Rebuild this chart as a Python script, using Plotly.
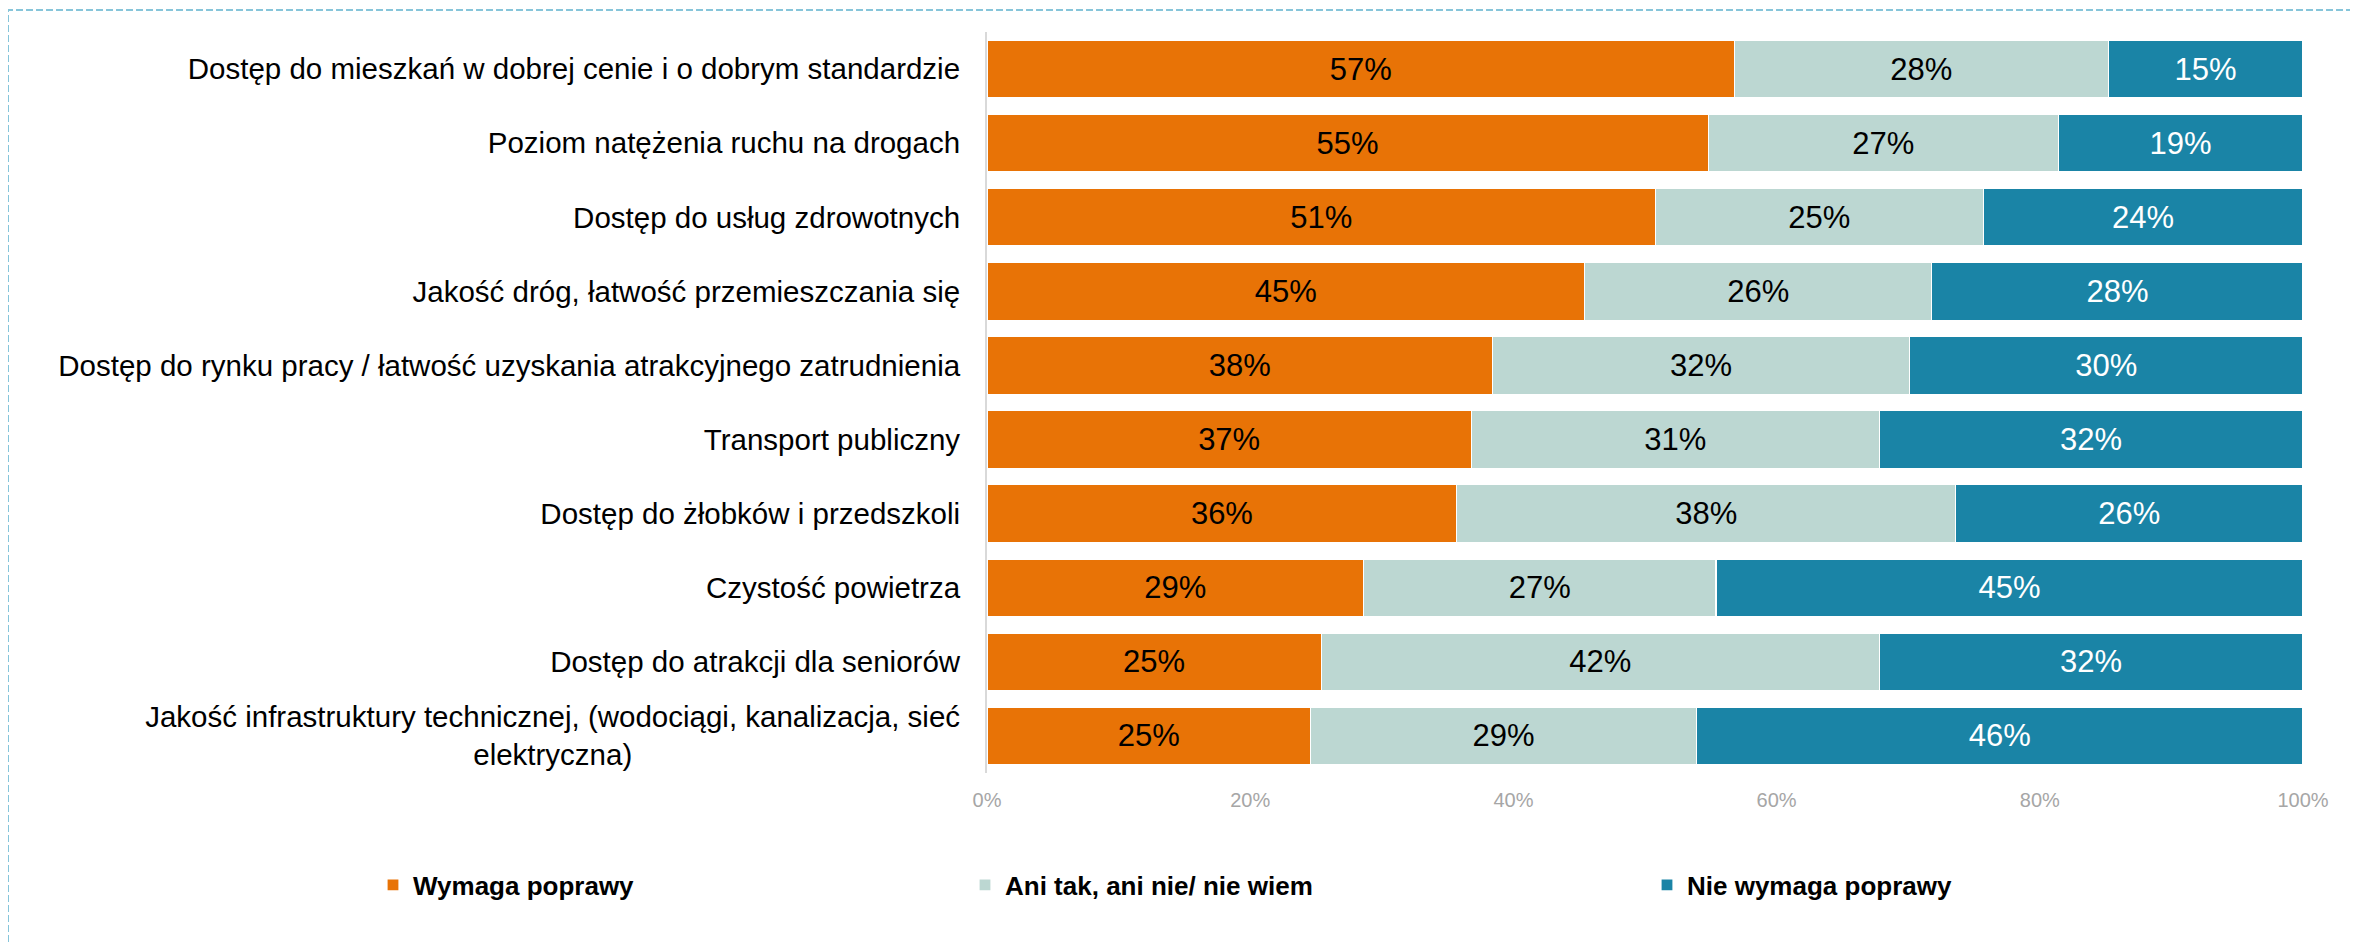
import plotly.graph_objects as go

categories = [
    "Dostęp do mieszkań w dobrej cenie i o dobrym standardzie",
    "Poziom natężenia ruchu na drogach",
    "Dostęp do usług zdrowotnych",
    "Jakość dróg, łatwość przemieszczania się",
    "Dostęp do rynku pracy / łatwość uzyskania atrakcyjnego zatrudnienia",
    "Transport publiczny",
    "Dostęp do żłobków i przedszkoli",
    "Czystość powietrza",
    "Dostęp do atrakcji dla seniorów",
    "Jakość infrastruktury technicznej, (wodociągi, kanalizacja, sieć<br>elektryczna)" + "\u00a0" * 40,
]

wymaga = [56.8, 54.8, 50.8, 45.4, 38.4, 36.8, 35.7, 28.6, 25.4, 24.6]
ani = [28.4, 26.6, 24.9, 26.4, 31.7, 31.0, 37.9, 26.8, 42.4, 29.3]
nie = [14.8, 18.6, 24.3, 28.2, 29.9, 32.2, 26.4, 44.6, 32.2, 46.1]

series_names = ["Wymaga poprawy", "Ani tak, ani nie/ nie wiem", "Nie wymaga poprawy"]
series_values = [wymaga, ani, nie]
colors = ["#E87306", "#BCD7D2", "#1A84A6"]
text_colors = ["#000000", "#000000", "#FFFFFF"]
legend_ids = ["legend", "legend2", "legend3"]

FONT = "Liberation Sans, Arial, sans-serif"
OFF = 8  # page body margin
W, H = 2358 - OFF, 945 - OFF
L, R, T, B = 987 - OFF, 55, 32 - OFF, 172

fig = go.Figure()
for name, vals, col, tcol, lg in zip(series_names, series_values, colors, text_colors, legend_ids):
    fig.add_trace(go.Bar(
        y=categories, x=vals, name=name, orientation="h",
        marker=dict(color=col, line=dict(color="#FFFFFF", width=1.2)),
        texttemplate="%{x:.0f}%", textposition="inside", insidetextanchor="middle",
        textangle=0, constraintext="none",
        textfont=dict(family=FONT, size=31, color=tcol),
        legend=lg, showlegend=True, hoverinfo="skip",
    ))

legend_common = dict(
    orientation="h", xref="container", yref="container",
    yanchor="middle", xanchor="left", y=1 - (885 - OFF) / H,
    font=dict(family=FONT, size=26, color="#000000", weight="bold"),
    bgcolor="rgba(0,0,0,0)", itemclick=False, itemdoubleclick=False,
    visible=True,
)
legend_x = [373 - OFF, 965 - OFF, 1647 - OFF]

pw = W - L - R
ph = H - T - B

def px_to_paper_x(p):
    return (p - L) / pw

def px_to_paper_y(p):
    return (H - B - p) / ph

fig.update_layout(
    width=W, height=H,
    margin=dict(l=L, r=R, t=T, b=B, pad=0),
    barmode="stack", bargap=0.223,
    showlegend=True,
    plot_bgcolor="#FFFFFF", paper_bgcolor="#FFFFFF",
    font=dict(family=FONT, color="#000000"),
    legend=dict(**legend_common, x=legend_x[0] / W),
    legend2=dict(**legend_common, x=legend_x[1] / W),
    legend3=dict(**legend_common, x=legend_x[2] / W),
    xaxis=dict(
        range=[0, 100], dtick=20, ticksuffix="%", showgrid=False, zeroline=False,
        showline=False, ticks="", ticklabelstandoff=13,
        tickfont=dict(family=FONT, size=20, color="#A6A6A6"),
        fixedrange=True,
    ),
    yaxis=dict(
        autorange="reversed", showgrid=False, zeroline=False,
        showline=True, linecolor="#D9D9D9", linewidth=2, ticks="",
        ticklabelstandoff=19,
        tickfont=dict(family=FONT, size=29.5, color="#000000"),
        fixedrange=True,
    ),
    shapes=[dict(
        type="rect", xref="paper", yref="paper",
        x0=px_to_paper_x(0), x1=px_to_paper_x(W + 10),
        y0=px_to_paper_y(H + 10), y1=px_to_paper_y(10 - OFF),
        line=dict(color="#86C5DA", width=2, dash="7px,3px"),
        fillcolor="rgba(0,0,0,0)", layer="above",
    )],
)

fig.write_html("out.html")
